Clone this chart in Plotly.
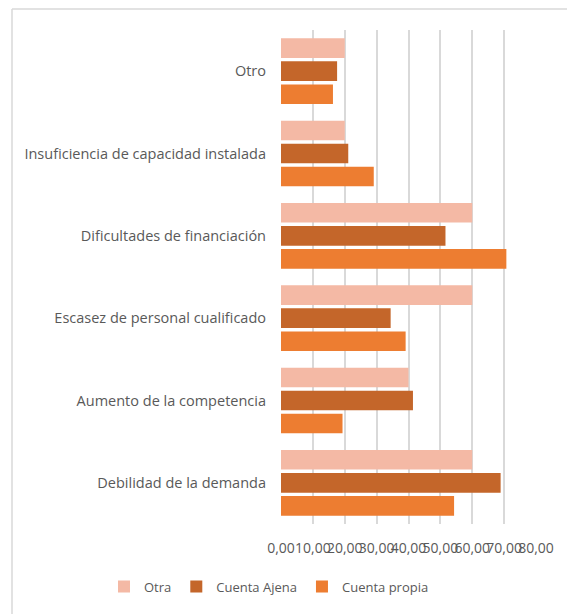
import plotly.graph_objects as go

categories = [
    "Otro",
    "Insuficiencia de capacidad instalada",
    "Dificultades de financiación",
    "Escasez de personal cualificado",
    "Aumento de la competencia",
    "Debilidad de la demanda",
]
otra = [20.0, 20.0, 60.0, 60.0, 40.0, 60.0]
cuenta_ajena = [17.6, 21.1, 51.6, 34.4, 41.4, 68.9]
cuenta_propia = [16.3, 29.1, 70.7, 39.1, 19.3, 54.3]
x_ticks = [0, 10, 20, 30, 40, 50, 60, 70, 80]

series = [
    ("Otra", otra, "#F4B9A5"),
    ("Cuenta Ajena", cuenta_ajena, "#C4662A"),
    ("Cuenta propia", cuenta_propia, "#ED7D31"),
]

fig = go.Figure()
for name, vals, color in series:
    fig.add_trace(go.Bar(
        y=categories, x=vals, name=name, orientation="h",
        marker=dict(color=color, line=dict(width=0)),
    ))

OFF = 8  # page body margin
W, H = 575 - OFF, 614 - OFF
ml = 281 - OFF
mt = 30 - OFF
mr = W - (536 - OFF)
mb = H - (527 - OFF)
pw, ph = W - ml - mr, H - mt - mb

def px_x(p):
    return (p - OFF - ml) / pw

def px_y(p):
    return (H - mb - (p - OFF)) / ph

grey = "#D9D9D9"
fig.update_layout(
    width=W, height=H,
    margin=dict(l=ml, r=mr, t=mt, b=mb),
    paper_bgcolor="white", plot_bgcolor="white",
    barmode="group", bargap=0.16, bargroupgap=0.15,
    separators=",.",
    font=dict(family="Open Sans", color="#595959"),
    showlegend=True,
    legend=dict(
        orientation="h", xref="paper", yref="paper",
        x=px_x(104), xanchor="left",
        y=px_y(590), yanchor="middle",
        font=dict(size=13, color="#595959"),
        traceorder="normal",
    ),
    xaxis=dict(
        range=[0, 80], tickvals=x_ticks, tickformat=".2f",
        showgrid=True, gridcolor=grey, gridwidth=1.5,
        zeroline=False, showline=False, ticks="",
        tickangle=0,
        tickfont=dict(size=14, color="#595959"),
        ticklabelstandoff=14,
    ),
    yaxis=dict(
        autorange="reversed", showgrid=False, zeroline=False,
        showline=False, ticks="",
        tickfont=dict(size=14.5, color="#595959"),
        ticklabelstandoff=14,
    ),
    shapes=[
        dict(type="line", xref="paper", yref="paper",
             x0=px_x(12), x1=px_x(W + OFF + 5), y0=px_y(OFF + 0.75), y1=px_y(OFF + 0.75),
             line=dict(color=grey, width=1.5)),
        dict(type="line", xref="paper", yref="paper",
             x0=px_x(12), x1=px_x(12), y0=px_y(OFF + 0.75), y1=px_y(H + OFF + 5),
             line=dict(color=grey, width=1.5)),
    ],
)

fig.write_html("out.html")
